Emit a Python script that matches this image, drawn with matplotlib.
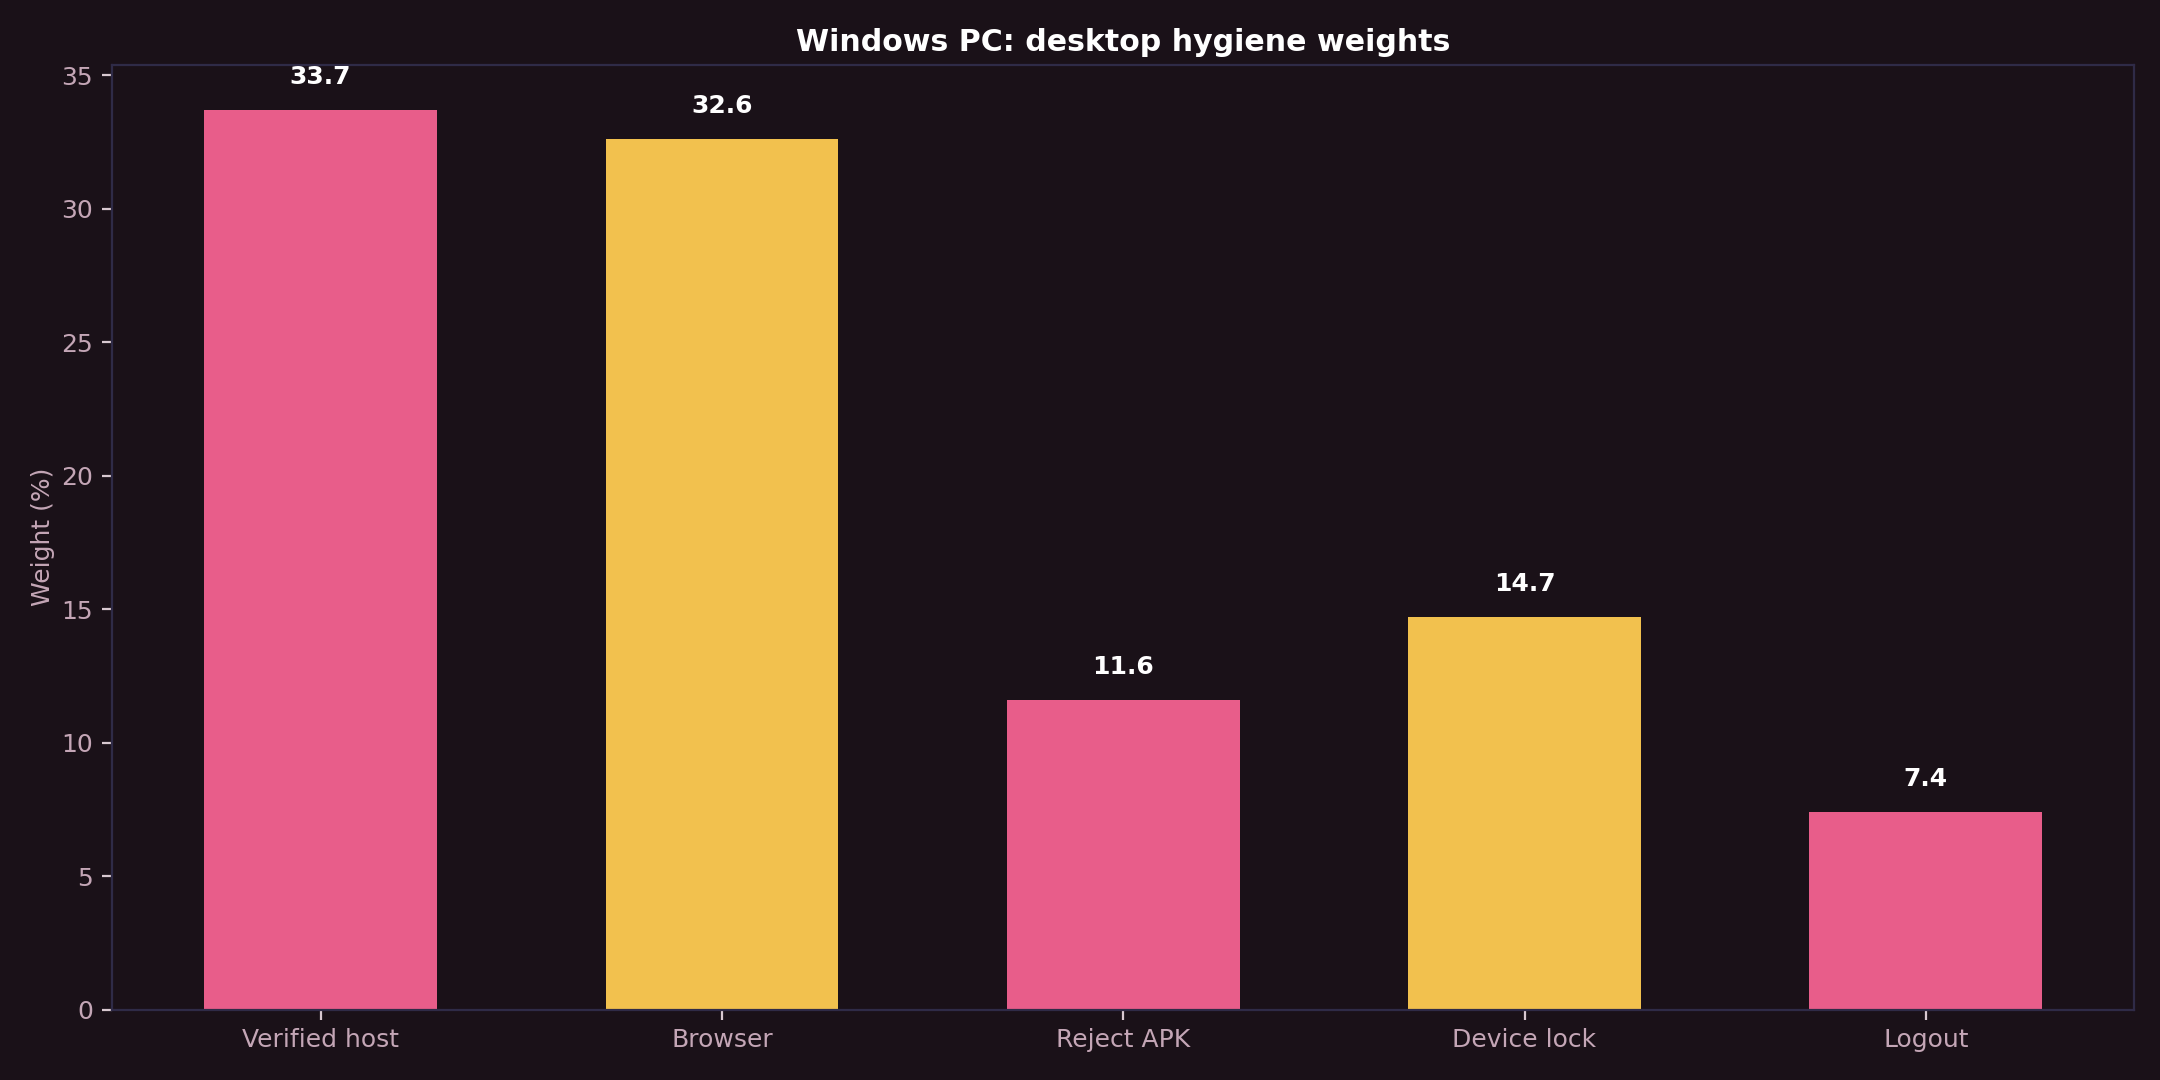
import matplotlib
matplotlib.use("Agg")
import matplotlib.pyplot as plt

categories = ["Verified host", "Browser", "Reject APK", "Device lock", "Logout"]
weights = [33.7, 32.6, 11.6, 14.7, 7.4]
bar_colors = ["#e85d8a", "#f2c14e", "#e85d8a", "#f2c14e", "#e85d8a"]

bg = "#1a1118"
muted = "#c4a6b6"
edge = "#2f2b47"

plt.rcParams["font.family"] = ["DejaVu Sans"]
fig, ax = plt.subplots(figsize=(10.8, 5.4), dpi=200, facecolor=bg)
ax.set_facecolor(bg)

bars = ax.bar(categories, weights, width=0.58, color=bar_colors, zorder=2)
for b, v in zip(bars, weights):
    ax.annotate(f"{v:.1f}", (b.get_x() + b.get_width() / 2, v),
                xytext=(0, 7.5), textcoords="offset points",
                ha="center", va="bottom", color="white",
                fontsize=9, fontweight="bold")

ax.set_title("Windows PC: desktop hygiene weights", color="white",
             fontsize=10.8, fontweight="bold", pad=5)
ax.set_ylabel("Weight (%)", color=muted, fontsize=9, labelpad=2)
ax.tick_params(colors=muted, labelsize=9)
ax.tick_params(axis="x", pad=3)
ax.tick_params(axis="both", color="#d8c8d0")
for s in ax.spines.values():
    s.set_color(edge)

fig.subplots_adjust(left=0.052, right=0.988, top=0.94, bottom=0.065)
fig.savefig("out.png", facecolor=bg)
